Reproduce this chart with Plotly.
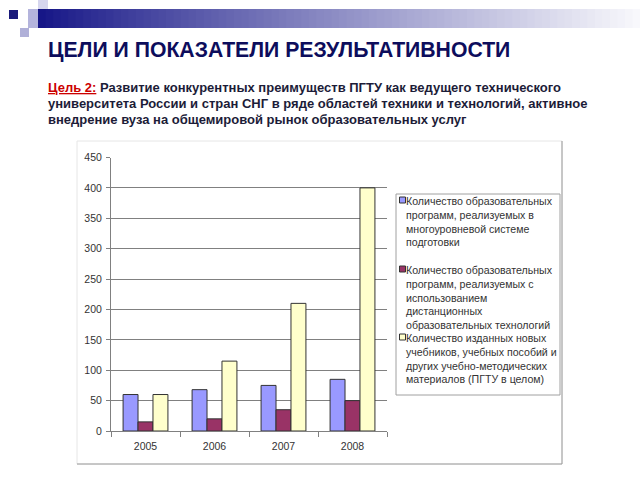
import plotly.graph_objects as go

years = ['2005', '2006', '2007', '2008']
programs = [60, 68, 75, 85]
distance = [15, 20, 35, 50]
textbooks = [60, 115, 210, 400]

names = [
    'Количество образовательных<br>программ, реализуемых в<br>многоуровневой системе<br>подготовки',
    'Количество образовательных<br>программ, реализуемых с<br>использованием<br>дистанционных<br>образовательных технологий',
    'Количество изданных новых<br>учебников, учебных пособий и<br>других учебно-методических<br>материалов (ПГТУ в целом)',
]
colors = ['#9999FF', '#993366', '#FFFFCC']

title = 'ЦЕЛИ И ПОКАЗАТЕЛИ РЕЗУЛЬТАТИВНОСТИ'
goal_lines = [
    "<span style='color:#cc0000'><u>Цель 2:</u></span> Развитие конкурентных преимуществ ПГТУ как ведущего технического",
    'университета России и стран СНГ в ряде областей техники и технологий, активное',
    'внедрение вуза на общемировой рынок образовательных услуг',
]

W, H = 640, 480
def px_x(x):
    return x / W
def px_y(y):
    # pixel row (from top) -> paper y, small correction for the capture
    y = (y - 6) / 0.975
    return (H - y) / H

fig = go.Figure()
for vals, name, col in zip([programs, distance, textbooks], names, colors):
    fig.add_trace(go.Bar(x=years, y=vals, name=name, marker_color=col,
                         marker_line_color='#333333', marker_line_width=1))

shapes = []
# header gradient bar
n = 80
x0, x1 = 38, 640
for i in range(n):
    t = (i / (n - 1)) ** 0.9
    r = int(22 + (248 - 22) * t)
    g = int(22 + (248 - 22) * t)
    b = int(135 + (252 - 135) * t)
    shapes.append(dict(type='rect', xref='paper', yref='paper',
                       x0=px_x(x0 + (x1 - x0) * i / n), x1=px_x(x0 + (x1 - x0) * (i + 1) / n + 1),
                       y0=px_y(28), y1=px_y(9), fillcolor=f'rgb({r},{g},{b})', line_width=0, layer='below'))
# small squares at the left
for (sx, sy, w, h, c) in [(9, 10, 9, 9, '#1a1a7a'), (28, 9, 10, 19, '#b4b4dc'), (38, 0, 10, 9, '#d6d6ee'),
                          (20, 28, 9, 9, '#b0b0d8')]:
    shapes.append(dict(type='rect', xref='paper', yref='paper', x0=px_x(sx), x1=px_x(sx + w),
                       y0=px_y(sy + h), y1=px_y(sy), fillcolor=c, line_width=0))
# chart frame
shapes.append(dict(type='rect', xref='paper', yref='paper', x0=px_x(77), x1=px_x(562),
                   y0=px_y(464), y1=px_y(141), fillcolor='white', line=dict(color='#e6e6e6', width=1),
                   layer='below'))
shapes.append(dict(type='line', xref='paper', yref='paper', x0=px_x(562), x1=px_x(562),
                   y0=px_y(464), y1=px_y(141), line=dict(color='#9a9a9a', width=1)))
shapes.append(dict(type='line', xref='paper', yref='paper', x0=px_x(77), x1=px_x(562),
                   y0=px_y(464), y1=px_y(464), line=dict(color='#9a9a9a', width=1)))
# legend box
shapes.append(dict(type='rect', xref='paper', yref='paper', x0=px_x(396), x1=px_x(560),
                   y0=px_y(395), y1=px_y(194), fillcolor='white', line=dict(color='#a0a0a0', width=1)))

annotations = [
    dict(text='<b>' + title + '</b>', x=px_x(46), y=px_y(50),
         xref='paper', yref='paper', xanchor='left', yanchor='middle', showarrow=False,
         font=dict(size=21.2, color='#0d0d5c', family='Liberation Sans, Arial')),
]
for line, yc in zip(goal_lines, [88, 104, 120]):
    annotations.append(dict(text='<b>' + line + '</b>', x=px_x(46), y=px_y(yc),
                            xref='paper', yref='paper', xanchor='left', yanchor='middle',
                            align='left', showarrow=False,
                            font=dict(size=13, color='#1c1c38', family='Liberation Sans, Arial')))

# legend entries (symbol + text)
legend_tops = [193, 262, 330]
for name, col, top in zip(names, colors, legend_tops):
    annotations.append(dict(text=name, x=px_x(404), y=px_y(top), xref='paper', yref='paper',
                            xanchor='left', yanchor='top', align='left', showarrow=False,
                            font=dict(size=10.6, color='#333333', family='Liberation Sans, Arial')))
    shapes.append(dict(type='rect', xref='paper', yref='paper', x0=px_x(399.5), x1=px_x(405.5),
                       y0=px_y(top + 10), y1=px_y(top + 4), fillcolor=col,
                       line=dict(color='#333333', width=1)))

fig.update_layout(
    width=W, height=H, autosize=False,
    margin=dict(l=0, r=0, t=0, b=0),
    paper_bgcolor='white',
    plot_bgcolor='#C0C0C0',
    barmode='group', bargap=0.35, bargroupgap=0,
    font=dict(family='Liberation Sans, Arial', size=10, color='#333333'),
    shapes=shapes, annotations=annotations,
    showlegend=False,
)
fig.update_xaxes(domain=[px_x(111), px_x(387)], showline=True, linecolor='#808080',
                 ticks='outside', tickson='boundaries', ticklen=5, tickcolor='#808080',
                 ticklabelstandoff=5,
                 tickfont=dict(size=10.5, color='#333333'), showgrid=False)
fig.update_yaxes(domain=[px_y(431), px_y(157.5)], range=[0, 450], dtick=50,
                 showline=True, linecolor='#808080', ticks='outside', ticklen=4,
                 tickcolor='#808080', gridcolor='#808080', gridwidth=1, ticklabelstandoff=2,
                 tickfont=dict(size=10.5, color='#333333'), zeroline=False)

fig.write_html('out.html', config={'displayModeBar': False, 'responsive': False},
               post_script="document.body.style.margin='0';document.body.style.overflow='hidden';")
